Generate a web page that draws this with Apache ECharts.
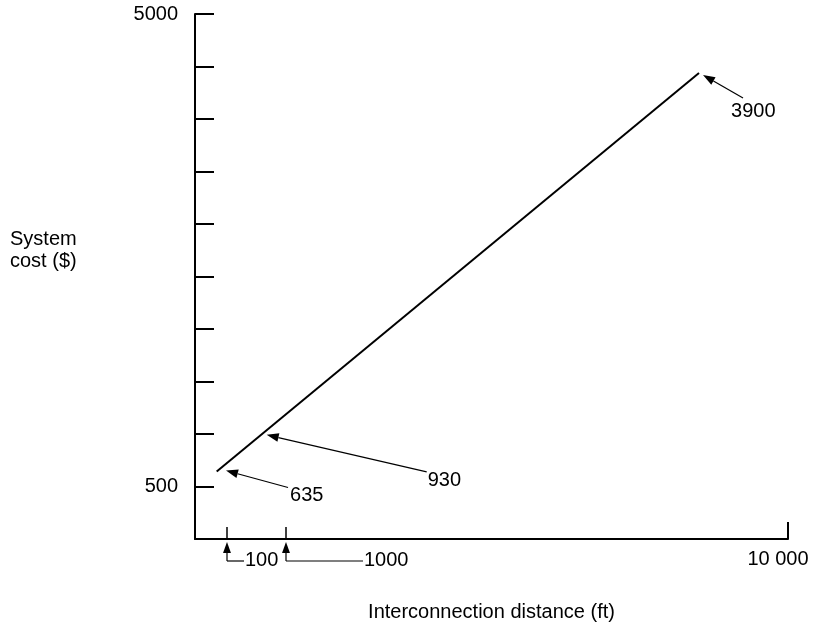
<!DOCTYPE html>
<html>
<head>
<meta charset="utf-8">
<script src="https://cdn.jsdelivr.net/npm/echarts@6/dist/echarts.min.js"></script>
<style>
  html, body { margin: 0; padding: 0; background: #fff; }
  #chart { width: 816px; height: 627px; }
</style>
</head>
<body>
<div id="chart"></div>
<script>
// cost line (distance ft, cost $)
const costLineX = [366, 8499]
const costLineY = [643, 4438]
// axis labels that are printed
const yTickLabels = [500, 5000]
const xTickLabels = [10000]
// callouts pointing at the line
const noteLabels = ['635', '930', '3900']
const noteTipX = [523, 1209, 8567]
const noteTipY = [652, 992, 4419]
// distance markers under the x axis
const distLabels = ['100', '1000']
const distX = [540, 1530]

// pixel offsets of the callout tails / texts from the tip
const noteTail = [[62, 17], [160, 37], [40, 23]]
const noteText = [[64, 25], [161, 46], [28, 36]]
const distLeader = [17, 77]

const font = 'Liberation Sans, Arial, sans-serif'
const fontSize = 20
const ink = '#000'

const myChart = echarts.init(document.getElementById('chart'))

const fmtNum = v => String(v).replace(/\B(?=(\d{3})+(?!\d))/g, ' ')

myChart.setOption({
  animation: false,
  backgroundColor: '#fff',
  textStyle: { fontFamily: font },
  grid: { left: 195, right: 28, top: 14, bottom: 88, outerBoundsMode: 'none', containLabel: false },
  xAxis: {
    type: 'value',
    min: 0,
    max: 10000,
    interval: 10000,
    name: 'Interconnection distance (ft)',
    nameLocation: 'middle',
    nameGap: 63,
    nameTextStyle: { fontSize, color: ink, fontFamily: font },
    axisLine: { lineStyle: { color: ink, width: 2 } },
    axisTick: { inside: true, length: 17, lineStyle: { color: ink, width: 2 } },
    axisLabel: {
      fontSize,
      color: ink,
      fontFamily: font,
      margin: 10,
      padding: [0, 20, 0, 0],
      formatter: v => xTickLabels.includes(v) ? fmtNum(v) : ''
    },
    splitLine: { show: false }
  },
  yAxis: {
    type: 'value',
    min: 0,
    max: 5000,
    interval: 500,
    axisLine: { show: true, lineStyle: { color: ink, width: 2 } },
    axisTick: { show: true, inside: true, length: 19, lineStyle: { color: ink, width: 2 } },
    axisLabel: {
      fontSize,
      color: ink,
      fontFamily: font,
      margin: 17,
      formatter: v => yTickLabels.includes(v) ? String(v) : ''
    },
    splitLine: { show: false }
  },
  series: [{
    name: 'cost',
    type: 'line',
    symbol: 'none',
    data: costLineX.map((x, i) => [x, costLineY[i]]),
    lineStyle: { color: ink, width: 2 }
  }]
})

// 箭头
function arrow (sx, sy, tx, ty, head) {
  const ang = Math.atan2(ty - sy, tx - sx)
  const bx = tx - Math.cos(ang) * head
  const by = ty - Math.sin(ang) * head
  const w = head * 0.36
  const nx = -Math.sin(ang) * w
  const ny = Math.cos(ang) * w
  return [{
    type: 'line',
    shape: { x1: sx, y1: sy, x2: bx, y2: by },
    style: { stroke: ink, lineWidth: 1.2 }
  }, {
    type: 'polygon',
    shape: { points: [[tx, ty], [bx + nx, by + ny], [bx - nx, by - ny]] },
    style: { fill: ink }
  }]
}

function text (x, y, str, align) {
  return {
    type: 'text',
    x,
    y,
    style: {
      text: str,
      font: fontSize + 'px ' + font,
      fill: ink,
      align: align || 'left',
      verticalAlign: 'middle'
    }
  }
}

const graphic = []

noteLabels.forEach((lab, i) => {
  const [tx, ty] = myChart.convertToPixel({ gridIndex: 0 }, [noteTipX[i], noteTipY[i]])
  const sx = tx + noteTail[i][0]
  const sy = ty + noteTail[i][1]
  graphic.push(...arrow(sx, sy, tx, ty, 12))
  graphic.push(text(tx + noteText[i][0], ty + noteText[i][1], lab))
})

const axisY = myChart.convertToPixel({ gridIndex: 0 }, [0, 0])[1]
distLabels.forEach((lab, i) => {
  const x = Math.round(myChart.convertToPixel({ gridIndex: 0 }, [distX[i], 0])[0])
  const yLow = axisY + 22
  graphic.push({
    type: 'line',
    shape: { x1: x, y1: axisY - 12, x2: x, y2: axisY },
    style: { stroke: ink, lineWidth: 1.5 }
  })
  graphic.push(...arrow(x, yLow, x, axisY + 3, 11))
  graphic.push({
    type: 'polyline',
    shape: { points: [[x, yLow], [x + distLeader[i], yLow]] },
    style: { stroke: ink, lineWidth: 1.2, fill: null }
  })
  graphic.push(text(x + distLeader[i] + 1, yLow - 1, lab))
})

graphic.push({
  type: 'text',
  x: 10,
  y: 250,
  style: {
    text: 'System\ncost ($)',
    font: fontSize + 'px ' + font,
    fill: ink,
    lineHeight: 22,
    verticalAlign: 'middle'
  }
})

myChart.setOption({ graphic })
</script>
</body>
</html>
